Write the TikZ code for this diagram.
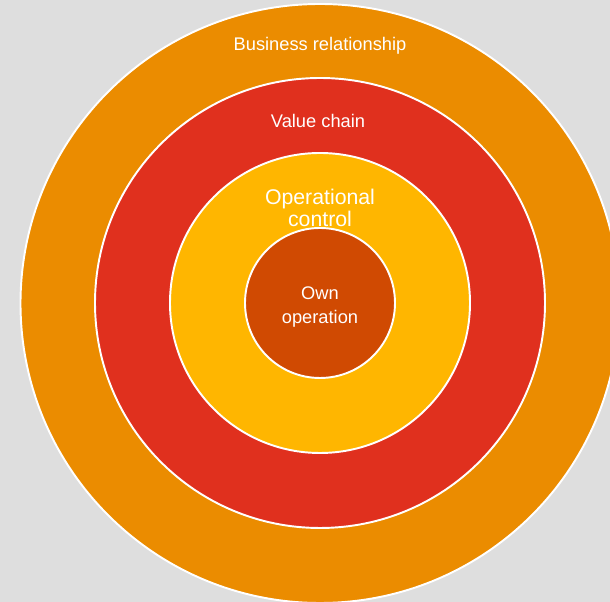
\documentclass[tikz,border=0pt]{standalone}
\usepackage{fontspec}
\setmainfont{Liberation Sans}
\definecolor{bggray}{HTML}{DEDEDE}
\definecolor{ringorange}{HTML}{EB8C00}
\definecolor{ringred}{HTML}{E0301E}
\definecolor{ringyellow}{HTML}{FFB600}
\definecolor{coreorange}{HTML}{D04A02}
\tikzset{
  ring/.style={circle, draw=white, line width=1.1pt, inner sep=0pt, minimum size=#1},
  ringlabel/.style={text=white, align=center, font=\fontsize{10.4}{13}\selectfont},
}
\begin{document}
\begin{tikzpicture}
  % Canvas
  \clip (0,0) rectangle (12.2,12.04);
  \fill[bggray] (0,0) rectangle (12.2,12.04);

  % Rings, outermost first
  \node[ring=11.98cm, fill=ringorange] (business) at (6.40,5.97) {};
  \node[ring=9cm, fill=ringred] (chain) at (6.40,5.98) {};
  \node[ring=6cm, fill=ringyellow] (control) at (chain.center) {};
  \node[ring=3cm, fill=coreorange] (own) at (chain.center) {};

  % Labels
  \node[ringlabel] (businesstext) at (6.40,11.12) {Business relationship};
  \node[ringlabel] (chaintext) at (6.36,9.62) {Value chain};
  \node[ringlabel, font=\fontsize{12.1}{12.6}\selectfont] (controltext) at (6.40,7.88) {Operational\\control};
  \node[ringlabel, font=\fontsize{10.4}{13.4}\selectfont] (owntext) at (own.center) [yshift=-0.08cm] {Own\\operation};
\end{tikzpicture}
\end{document}
